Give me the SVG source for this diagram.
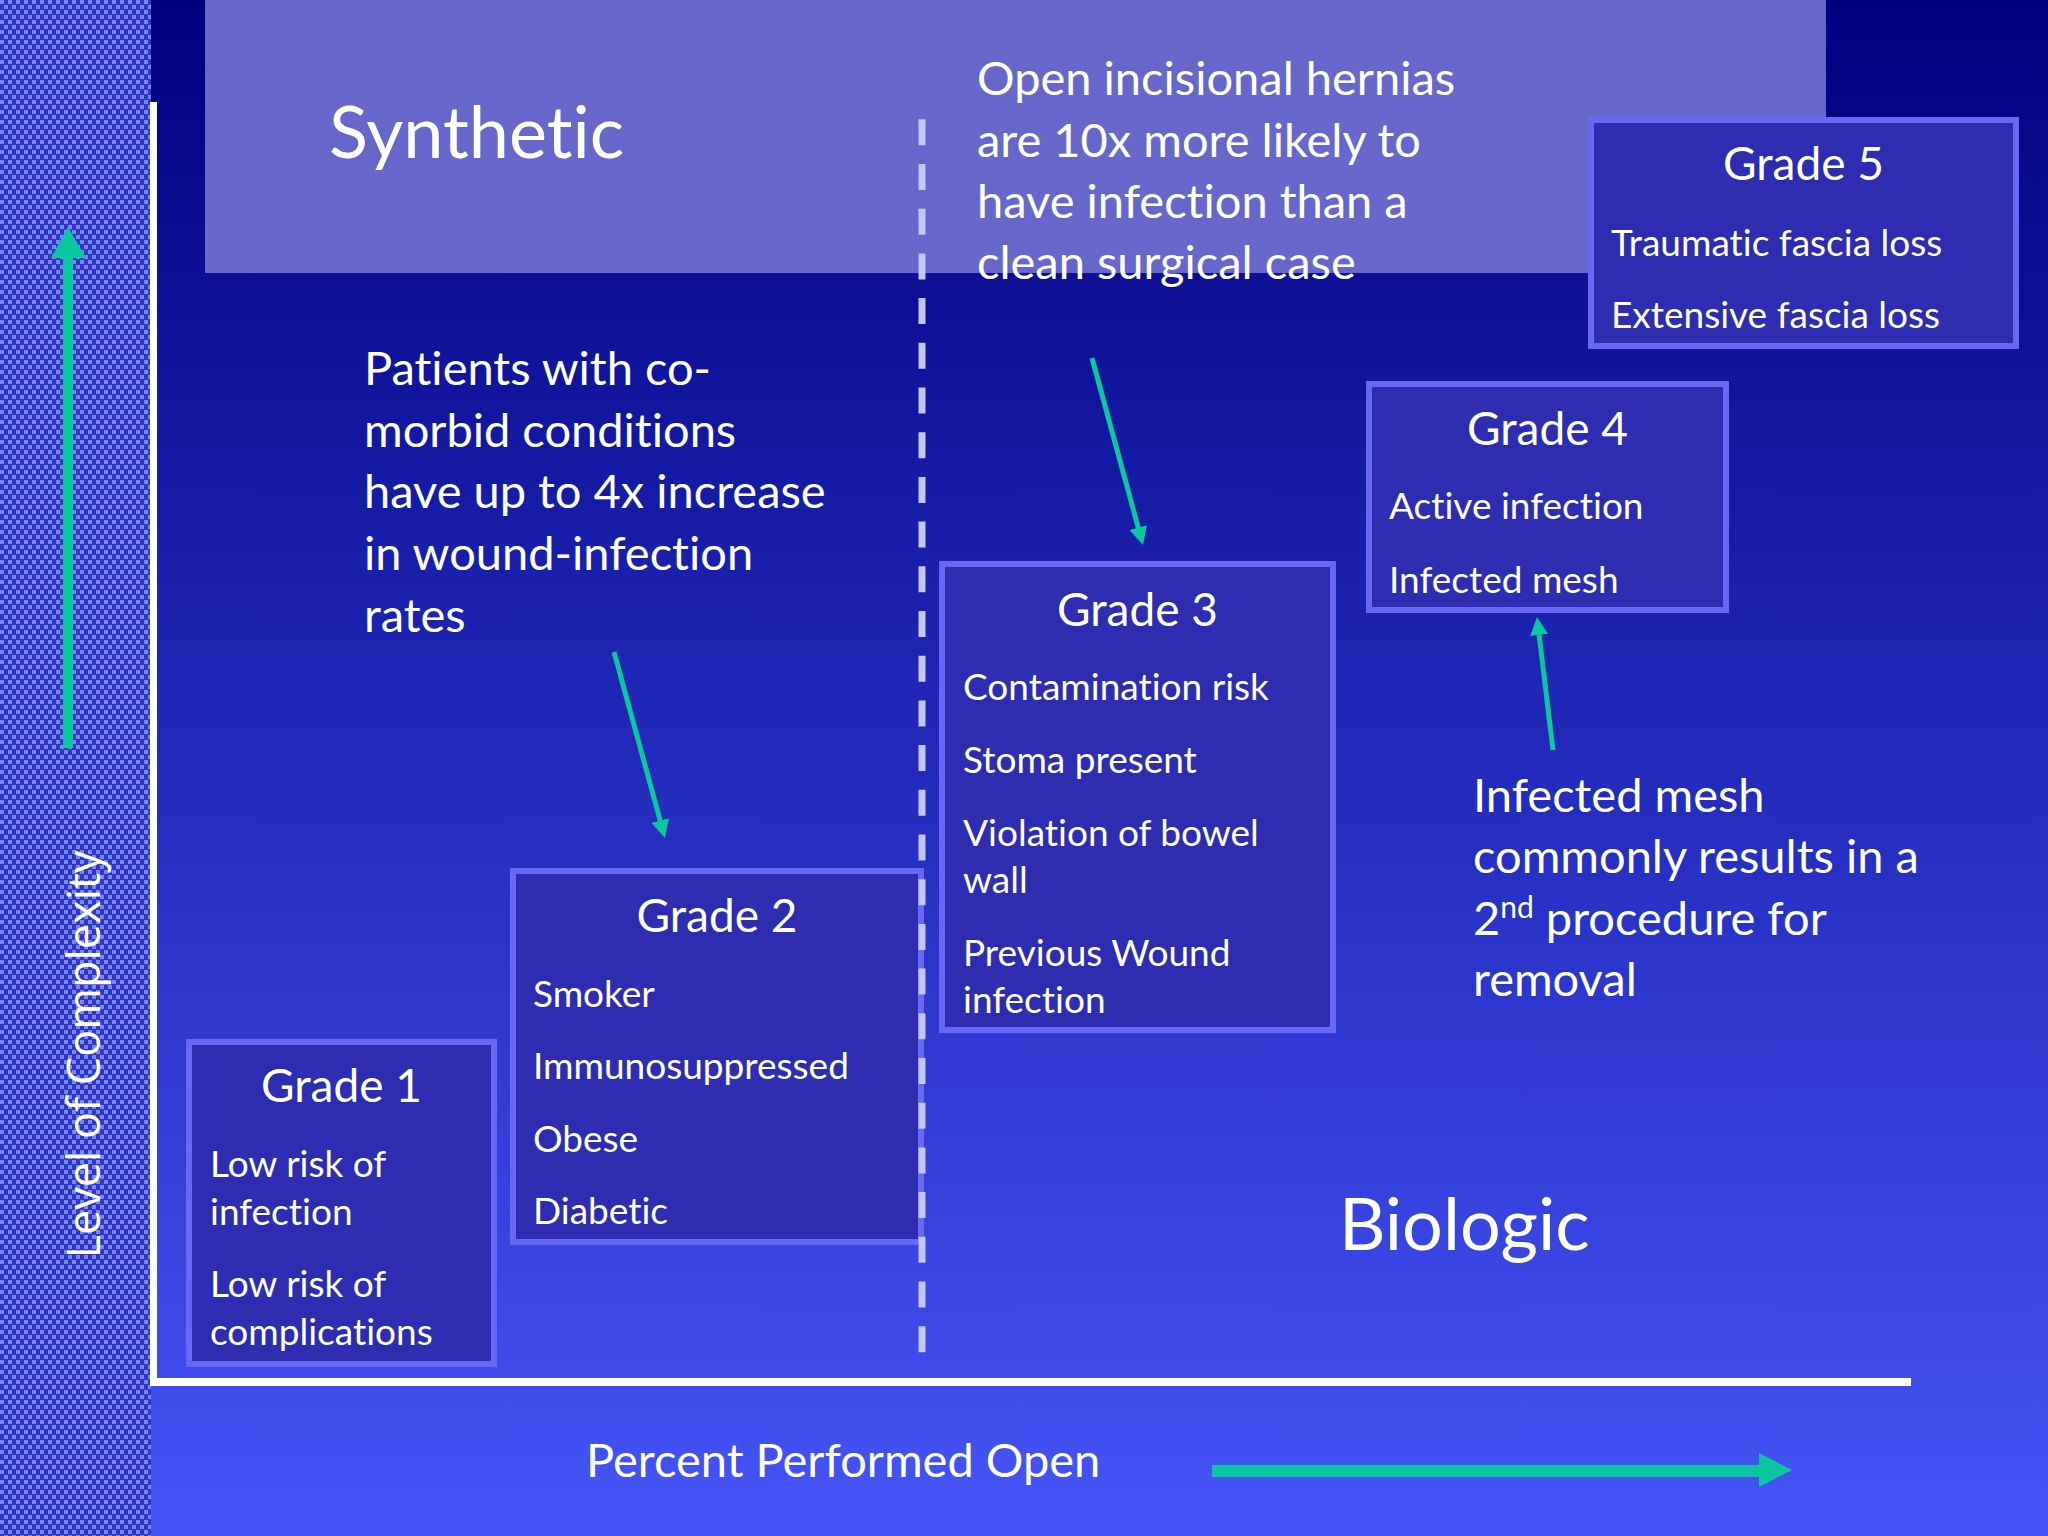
<svg xmlns="http://www.w3.org/2000/svg" width="2048" height="1536" viewBox="0 0 2048 1536">
  <defs>
    <linearGradient id="bg" gradientUnits="userSpaceOnUse" x1="0" y1="0" x2="0" y2="1536">
      <stop offset="0" stop-color="#00007f"/>
      <stop offset="1" stop-color="#4655f8"/>
    </linearGradient>
    <pattern id="weave" patternUnits="userSpaceOnUse" width="8" height="10">
      <rect width="8" height="10" fill="#3833c4"/>
      <rect x="0" y="0" width="4" height="4" fill="#6c8df8"/>
      <rect x="4" y="5" width="4" height="4" fill="#6c8df8"/>
    </pattern>
    <marker id="head" markerUnits="userSpaceOnUse" markerWidth="18" markerHeight="18" refX="6" refY="9" orient="auto" viewBox="0 0 18 18">
      <path d="M0,0 L18,9 L0,18 z" fill="#0bc79f"/>
    </marker>
    <style>
      .t { font-family: Lato, "Liberation Sans", sans-serif; fill: #ffffff; font-variant-ligatures: none; font-feature-settings: "liga" 0, "clig" 0; }
      .big { font-size: 72px; }
      .body { font-size: 47px; }
      .title { font-size: 46px; text-anchor: middle; }
      .item { font-size: 37px; }
      .box { fill: #2e2cb0; stroke: #6868f6; stroke-width: 6; }
      .dash { stroke: #c4c6f6; stroke-width: 7; stroke-dasharray: 26 18.7; }
      .conn { stroke: #0bc79f; stroke-width: 5; fill: none; marker-end: url(#head); }
      .green { fill: #0bc79f; }
    </style>
  </defs>

  <!-- background -->
  <rect x="0" y="0" width="2048" height="1536" fill="url(#bg)"/>
  <rect x="0" y="0" width="151" height="1536" fill="url(#weave)"/>
  <rect x="205" y="0" width="1621" height="273" fill="#6767cb"/>

  <!-- axes -->
  <g id="axes">
    <rect x="150" y="102" width="7" height="1284" fill="#ffffff"/>
    <rect x="150" y="1378" width="1761" height="8" fill="#ffffff"/>
  </g>

  <!-- region labels -->
  <text class="t big" x="329" y="158">Synthetic</text>
  <text class="t big" x="1339" y="1250">Biologic</text>

  <g id="note-open">
    <text class="t body" x="977" y="95">Open incisional hernias</text>
    <text class="t body" x="977" y="157">are 10x more likely to</text>
    <text class="t body" x="977" y="218">have infection than a</text>
    <text class="t body" x="977" y="279">clean surgical case</text>
  </g>

  <g id="note-patients">
    <text class="t body" x="364" y="385">Patients with co-</text>
    <text class="t body" x="364" y="447">morbid conditions</text>
    <text class="t body" x="364" y="508">have up to 4x increase</text>
    <text class="t body" x="364" y="570">in wound-infection</text>
    <text class="t body" x="364" y="632">rates</text>
  </g>

  <g id="note-mesh">
    <text class="t body" x="1473" y="812">Infected mesh</text>
    <text class="t body" x="1473" y="873">commonly results in a</text>
    <text class="t body" x="1473" y="935">2<tspan font-size="30" dy="-17">nd</tspan><tspan dy="17"> procedure for</tspan></text>
    <text class="t body" x="1473" y="996">removal</text>
  </g>

  <g id="grade1">
    <rect class="box" x="189" y="1042" width="305" height="322"/>
    <text class="t title" x="341.5" y="1102">Grade 1</text>
    <text class="t item" x="210" y="1177">Low risk of</text>
    <text class="t item" x="210" y="1225">infection</text>
    <text class="t item" x="210" y="1297">Low risk of</text>
    <text class="t item" x="210" y="1345">complications</text>
  </g>

  <g id="grade2">
    <rect class="box" x="513" y="871" width="408" height="371"/>
    <text class="t title" x="717" y="932">Grade 2</text>
    <text class="t item" x="533" y="1007">Smoker</text>
    <text class="t item" x="533" y="1079">Immunosuppressed</text>
    <text class="t item" x="533" y="1152">Obese</text>
    <text class="t item" x="533" y="1224">Diabetic</text>
  </g>

  <g id="grade3">
    <rect class="box" x="942" y="564" width="391" height="466"/>
    <text class="t title" x="1137.5" y="626">Grade 3</text>
    <text class="t item" x="963" y="700">Contamination risk</text>
    <text class="t item" x="963" y="773">Stoma present</text>
    <text class="t item" x="963" y="846">Violation of bowel</text>
    <text class="t item" x="963" y="893">wall</text>
    <text class="t item" x="963" y="966">Previous Wound</text>
    <text class="t item" x="963" y="1013">infection</text>
  </g>

  <g id="grade4">
    <rect class="box" x="1369" y="384" width="357" height="226"/>
    <text class="t title" x="1547.5" y="445">Grade 4</text>
    <text class="t item" x="1389" y="519">Active infection</text>
    <text class="t item" x="1389" y="593">Infected mesh</text>
  </g>

  <g id="grade5">
    <rect class="box" x="1591" y="120" width="425" height="226"/>
    <text class="t title" x="1803.5" y="180">Grade 5</text>
    <text class="t item" x="1611" y="256">Traumatic fascia loss</text>
    <text class="t item" x="1611" y="328">Extensive fascia loss</text>
  </g>

  <g id="divider">
    <line class="dash" x1="922" y1="119.3" x2="922" y2="1353"/>
  </g>

  <g id="connectors">
    <line class="conn" x1="614" y1="652" x2="661.8" y2="826.4"/>
    <line class="conn" x1="1092" y1="358" x2="1139.8" y2="533.4"/>
    <line class="conn" x1="1553" y1="750" x2="1538.4" y2="628.9"/>
    <polygon class="green" points="63,748 63,258 51,258 68,227 86,258 73,258 73,748"/>
    <polygon class="green" points="1212,1465 1759,1465 1759,1453 1792,1470 1759,1487 1759,1477 1212,1477"/>
  </g>

  <g id="axis-labels">
    <text class="t body" x="586" y="1477">Percent Performed Open</text>
    <text x="100" y="1054.5" transform="rotate(-90 100 1054.5)" text-anchor="middle" font-family="'Open Sans', 'DejaVu Sans', sans-serif" font-size="45" fill="#ffffff">Level of Complexity</text>
  </g>
</svg>
